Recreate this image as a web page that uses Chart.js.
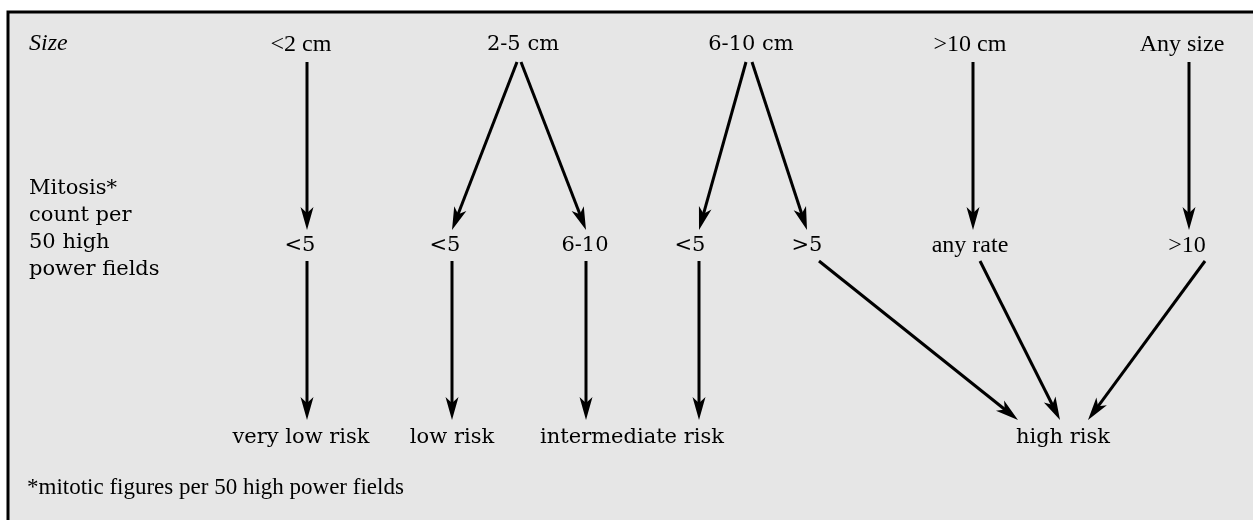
<!DOCTYPE html>
<html>
<head>
<meta charset="utf-8">
<script src="https://cdn.jsdelivr.net/npm/chart.js@4"></script>
<style>
    html, body { margin: 0; padding: 0; background: #ffffff; }
    #wrap { width: 1253px; height: 520px; }
</style>
</head>
<body>
<div id="wrap"><canvas id="diagramme"></canvas></div>
<script>
// Noeuds du diagramme (texte, position x, position y, police)
const nodeLabels = ['<2 cm', '2-5 cm', '6-10 cm', '>10 cm', 'Any size',
    '<5', '<5', '6-10', '<5', '>5', 'any rate', '>10',
    'very low risk', 'low risk', 'intermediate risk', 'high risk'];
const nodeX = [301, 523, 751, 970, 1182,
    300, 445, 585, 690, 807, 970, 1187,
    301, 452, 632, 1063];
const nodeY = [45, 45, 45, 45, 45,
    246, 246, 246, 246, 246, 246, 246,
    438, 438, 438, 438];
const nodeFont = ['times', 'dejavu', 'dejavu', 'times', 'times',
    'dejavu', 'dejavu', 'dejavu', 'dejavu', 'dejavu', 'times', 'times',
    'dejavu', 'dejavu', 'dejavu', 'dejavu'];

// Légende à gauche
const rowTitle = 'Size';
const mitosisLines = ['Mitosis*', 'count per', '50 high', 'power fields'];
const mitosisY = [189, 216, 243, 270];
const footnote = '*mitotic figures per 50 high power fields';

// Flèches : départ -> arrivée
const arrowX1 = [307, 517, 521, 746, 752, 973, 1189, 307, 452, 586, 699, 819, 980, 1205];
const arrowY1 = [62, 62, 62, 62, 62, 62, 62, 261, 261, 261, 261, 261, 261, 261];
const arrowX2 = [307, 452, 586, 699, 807, 973, 1189, 307, 452, 586, 699, 1018, 1060, 1088];
const arrowY2 = [230, 230, 230, 230, 230, 230, 230, 420, 420, 420, 420, 420, 420, 420];

const polices = {
    times: '24px "Liberation Serif", serif',
    dejavu: '21px "DejaVu Serif", serif'
};

const diagrammePlugin = {
    id: 'diagramme',
    beforeDraw(chart) {
        const ctx = chart.ctx;
        const xs = chart.scales.x;
        const ys = chart.scales.y;
        const gauche = xs.getPixelForValue(8);
        const haut = ys.getPixelForValue(12);
        ctx.save();
        ctx.fillStyle = '#e6e6e6';
        ctx.fillRect(gauche, haut, chart.width - gauche, chart.height - haut);
        ctx.strokeStyle = '#000';
        ctx.lineWidth = 3;
        ctx.beginPath();
        ctx.moveTo(chart.width, haut);
        ctx.lineTo(gauche, haut);
        ctx.lineTo(gauche, chart.height);
        ctx.stroke();
        ctx.restore();
    },
    afterDraw(chart) {
        const ctx = chart.ctx;
        const xs = chart.scales.x;
        const ys = chart.scales.y;
        ctx.save();
        ctx.fillStyle = '#000';
        ctx.textBaseline = 'middle';

        // Textes des noeuds
        ctx.textAlign = 'center';
        nodeLabels.forEach((txt, i) => {
            ctx.font = polices[nodeFont[i]];
            ctx.fillText(txt, xs.getPixelForValue(nodeX[i]), ys.getPixelForValue(nodeY[i]));
        });

        // Titres de lignes
        ctx.textAlign = 'left';
        ctx.font = 'italic 24px "Liberation Serif", serif';
        ctx.fillText(rowTitle, xs.getPixelForValue(29), ys.getPixelForValue(44));
        ctx.font = polices.dejavu;
        mitosisLines.forEach((txt, i) => {
            ctx.fillText(txt, xs.getPixelForValue(29), ys.getPixelForValue(mitosisY[i]));
        });
        ctx.font = '23px "Liberation Serif", serif';
        ctx.fillText(footnote, xs.getPixelForValue(27), ys.getPixelForValue(488));

        // Flèches
        ctx.strokeStyle = '#000';
        ctx.fillStyle = '#000';
        ctx.lineWidth = 3;
        for (let i = 0; i < arrowX1.length; i++) {
            const x1 = xs.getPixelForValue(arrowX1[i]);
            const y1 = ys.getPixelForValue(arrowY1[i]);
            const x2 = xs.getPixelForValue(arrowX2[i]);
            const y2 = ys.getPixelForValue(arrowY2[i]);
            const angle = Math.atan2(y2 - y1, x2 - x1);
            const longueur = Math.hypot(x2 - x1, y2 - y1);
            ctx.save();
            ctx.translate(x1, y1);
            ctx.rotate(angle);
            ctx.beginPath();
            ctx.moveTo(0, 0);
            ctx.lineTo(longueur - 16, 0);
            ctx.stroke();
            // pointe
            ctx.beginPath();
            ctx.moveTo(longueur, 0);
            ctx.lineTo(longueur - 23, -6.5);
            ctx.lineTo(longueur - 17, 0);
            ctx.lineTo(longueur - 23, 6.5);
            ctx.closePath();
            ctx.fill();
            ctx.restore();
        }
        ctx.restore();
    }
};

new Chart(document.getElementById('diagramme'), {
    type: 'scatter',
    data: {
        datasets: [{
            data: nodeX.map((x, i) => ({ x: x, y: nodeY[i] })),
            pointRadius: 0,
            pointHoverRadius: 0
        }]
    },
    options: {
        responsive: true,
        maintainAspectRatio: false,
        animation: false,
        events: [],
        layout: { padding: 0 },
        plugins: {
            legend: { display: false },
            tooltip: { enabled: false }
        },
        scales: {
            x: { type: 'linear', min: 0, max: 1253, display: false },
            y: { type: 'linear', min: 0, max: 520, reverse: true, display: false }
        }
    },
    plugins: [diagrammePlugin]
});
</script>
</body>
</html>
